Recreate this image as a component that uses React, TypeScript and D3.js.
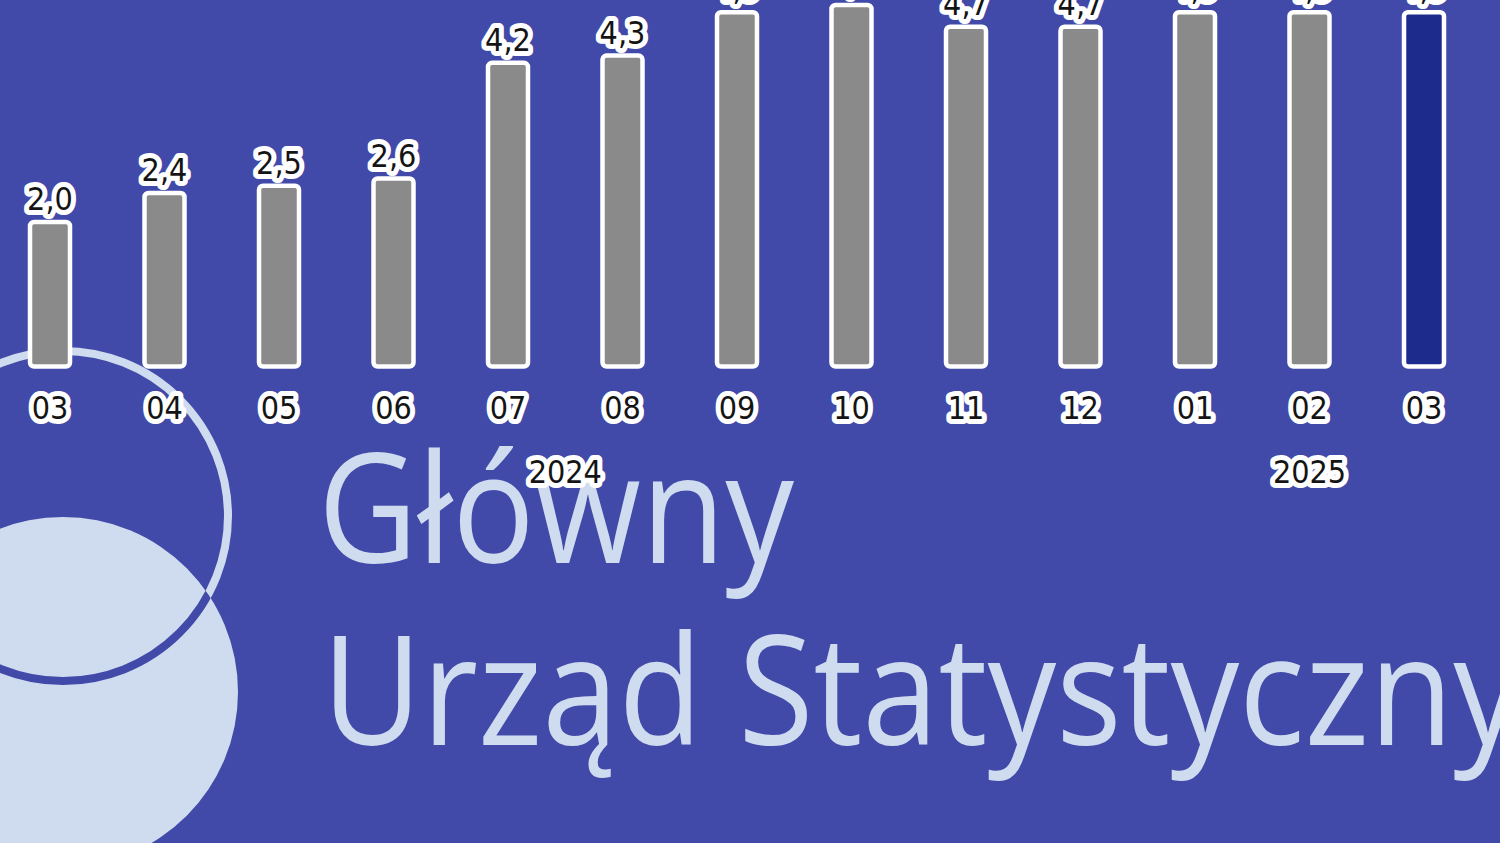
import React from "react";
import * as d3 from "d3";

const months = ["03", "04", "05", "06", "07", "08", "09", "10", "11", "12", "01", "02", "03"];
const keys = ["2024-03", "2024-04", "2024-05", "2024-06", "2024-07", "2024-08", "2024-09", "2024-10", "2024-11", "2024-12", "2025-01", "2025-02", "2025-03"];
const values = [2.0, 2.4, 2.5, 2.6, 4.2, 4.3, 4.9, 5.0, 4.7, 4.7, 4.9, 4.9, 4.9];
const years = ["2024", "2025"];
const yearRanges = [[0, 9], [10, 12]];
const highlightIndex = 12;

const W = 1500;
const H = 843;
const BG = "#4149a9";
const LIGHT = "#cfdcef";
const GRAY = "#8a8a8a";
const DARK = "#1d2c8c";
const LABEL_FONT = "'Liberation Sans Narrow', 'DejaVu Sans Condensed', 'Roboto Condensed', sans-serif";

export default function App() {
  const x = d3.scalePoint<string>().domain(keys).range([50, 1424]);
  const y = d3.scaleLinear().domain([0, 5]).range([366.5, 5]);
  const barW = 40;
  const fmt = (v: number) => v.toFixed(1).replace(".", ",");

  const haloProps = {
    stroke: "#ffffff",
    strokeWidth: 10,
    strokeLinejoin: "round" as const,
    paintOrder: "stroke",
    fill: "#141414",
  };

  const ringC = { cx: 63, cy: 516, r: 165 };
  const discC = { cx: 63, cy: 692, r: 175 };

  return (
    <svg width={W} height={H} style={{ position: "absolute", left: 0, top: 0 }}>
      <defs>
        <clipPath id="discClip">
          <circle cx={discC.cx} cy={discC.cy} r={discC.r} />
        </clipPath>
      </defs>
      <rect x={0} y={0} width={W} height={H} fill={BG} />

      {/* logo */}
      <circle cx={discC.cx} cy={discC.cy} r={discC.r} fill={LIGHT} />
      <circle cx={ringC.cx} cy={ringC.cy} r={ringC.r} fill="none" stroke={LIGHT} strokeWidth={8} />
      <circle cx={ringC.cx} cy={ringC.cy} r={ringC.r} fill="none" stroke={BG} strokeWidth={8} clipPath="url(#discClip)" />
      <text x={318} y={563} fill={LIGHT} fontFamily="'Open Sans', 'Lato', sans-serif" fontSize={152} textLength={476} lengthAdjust="spacingAndGlyphs">
        Główny
      </text>
      <text x={322} y={745} fill={LIGHT} fontFamily="'Open Sans', 'Lato', sans-serif" fontSize={152} textLength={1200} lengthAdjust="spacingAndGlyphs">
        Urząd Statystyczny
      </text>

      {/* bars */}
      {keys.map((k, i) => {
        const cx = x(k)!;
        const top = y(values[i]);
        return (
          <rect
            key={k}
            x={cx - barW / 2}
            y={top}
            width={barW}
            height={y(0) - top}
            rx={4}
            fill={i === highlightIndex ? DARK : GRAY}
            stroke="#ffffff"
            strokeWidth={4.5}
          />
        );
      })}

      {/* value labels */}
      {keys.map((k, i) => (
        <text
          key={"v" + k}
          x={x(k)!}
          y={y(values[i]) - 12}
          textAnchor="middle"
          fontFamily={LABEL_FONT}
          fontSize={32}
          {...haloProps}
        >
          {fmt(values[i])}
        </text>
      ))}

      {/* month labels */}
      {keys.map((k, i) => (
        <text
          key={"m" + k}
          x={x(k)!}
          y={419}
          textAnchor="middle"
          fontFamily={LABEL_FONT}
          fontSize={32}
          {...haloProps}
        >
          {months[i]}
        </text>
      ))}

      {/* year labels */}
      {years.map((yr, j) => {
        const [a, b] = yearRanges[j];
        const cx = (x(keys[a])! + x(keys[b])!) / 2;
        return (
          <text
            key={yr}
            x={cx}
            y={483}
            textAnchor="middle"
            fontFamily={LABEL_FONT}
            fontSize={32}
            {...haloProps}
          >
            {yr}
          </text>
        );
      })}
    </svg>
  );
}
